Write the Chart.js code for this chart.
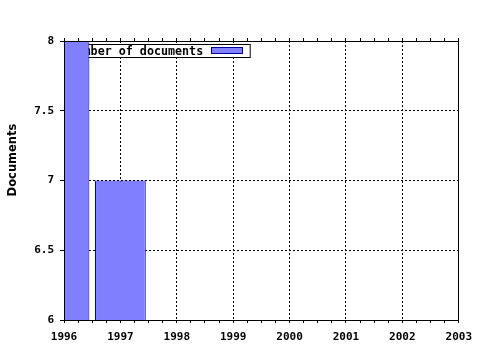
<!DOCTYPE html>
<html>
<head>
<meta charset="utf-8">
<script src="https://cdn.jsdelivr.net/npm/chart.js@4/dist/chart.umd.min.js"></script>
<style>
  html, body { margin: 0; padding: 0; background: #ffffff; }
  #c { display: block; }
</style>
</head>
<body>
<canvas id="c" width="480" height="350"></canvas>
<script>
// ---- data ----
const years = [1996, 1997];
const documents = [8, 7];
const seriesLabel = 'Number of documents';
const yAxisTitle = 'Documents';
const xRange = [1996, 2003];
const yRange = [6, 8];
const yStep = 0.5;
const xMinorStep = 0.25;

const barFill = '#8080ff';
const barEdge = '#0000a0';
const monoFont = '"DejaVu Sans Mono", monospace';

Chart.defaults.font.family = monoFont;
Chart.defaults.font.size = 11;
Chart.defaults.font.weight = 'bold';
Chart.defaults.color = '#000';

const insideLegend = {
  id: 'insideLegend',
  beforeDatasetsDraw(chart) {
    const { ctx, chartArea } = chart;
    const ds = chart.data.datasets[0];
    ctx.save();
    ctx.font = 'bold 11.7px ' + monoFont;
    const tw = ctx.measureText(ds.label).width;
    const left = chartArea.left + 2.5, top = chartArea.top + 3.5;
    const w = 3 + tw + 8 + 31 + 8, h = 13;
    ctx.fillStyle = '#fff';
    ctx.fillRect(left, top, w, h);
    ctx.strokeStyle = '#000';
    ctx.lineWidth = 1;
    ctx.strokeRect(left, top, w, h);
    ctx.fillStyle = '#000';
    ctx.textBaseline = 'middle';
    ctx.textAlign = 'left';
    ctx.fillText(ds.label, left + 3, top + h / 2 + 0.5);
    const sx = Math.round(left + 3 + tw + 8) + 0.5;
    ctx.fillStyle = ds.backgroundColor;
    ctx.fillRect(sx, top + 3, 31, 6);
    ctx.strokeStyle = ds.borderColor;
    ctx.strokeRect(sx, top + 3, 31, 6);
    ctx.restore();
  }
};

const sideTitle = {
  id: 'sideTitle',
  afterDraw(chart) {
    const { ctx } = chart;
    ctx.save();
    ctx.font = 'bold 11.5px "DejaVu Sans", sans-serif';
    ctx.fillStyle = '#000';
    ctx.textAlign = 'center';
    ctx.textBaseline = 'middle';
    ctx.translate(13.5, 160);
    ctx.rotate(-Math.PI / 2);
    ctx.fillText(yAxisTitle, 0, 0);
    ctx.restore();
  }
};

const isMajor = v => Math.abs(v - Math.round(v)) < 1e-6;

new Chart(document.getElementById('c'), {
  type: 'bar',
  data: {
    datasets: [{
      label: seriesLabel,
      data: documents.map((v, i) => ({ x: years[i], y: v })),
      backgroundColor: barFill,
      borderColor: barEdge,
      borderWidth: 1,
      // ruler spacing is one minor tick (a quarter year); bars fill 90% of a year
      barPercentage: 0.9 / xMinorStep,
      categoryPercentage: 1.0,
      xAxisID: 'x',
      yAxisID: 'y'
    }]
  },
  options: {
    responsive: false,
    animation: false,
    layout: { padding: 0 },
    plugins: {
      legend: { display: false },
      tooltip: { enabled: false },
      title: { display: false }
    },
    scales: {
      x: {
        type: 'linear',
        position: 'bottom',
        min: xRange[0],
        max: xRange[1],
        offset: false,
        afterFit(s) { s.height = 30; },
        ticks: {
          stepSize: xMinorStep,
          autoSkip: false,
          maxRotation: 0,
          padding: 8,
          color: '#000',
          font: { size: 11, weight: 'bold', family: monoFont },
          callback: v => isMajor(v) ? String(Math.round(v)) : ''
        },
        grid: {
          offset: false,
          color: c => (c.tick && isMajor(c.tick.value)) ? '#000' : 'rgba(0,0,0,0)',
          lineWidth: 1,
          tickColor: '#000',
          tickLength: 3,
          tickBorderDash: []
        },
        border: { display: true, color: '#000', width: 1, dash: [2, 2], z: 1 }
      },
      x2: {
        type: 'linear',
        position: 'top',
        min: xRange[0],
        max: xRange[1],
        offset: false,
        afterFit(s) { s.height = 41; },
        ticks: { stepSize: xMinorStep, autoSkip: false, display: false },
        grid: {
          offset: false,
          drawOnChartArea: false,
          tickColor: '#000',
          tickLength: 3
        },
        border: { display: true, color: '#000', width: 1, z: 1 }
      },
      y: {
        type: 'linear',
        position: 'left',
        min: yRange[0],
        max: yRange[1],
        beginAtZero: false,
        afterFit(s) { s.width = 64; },
        ticks: {
          stepSize: yStep,
          padding: 6,
          color: '#000',
          font: { size: 11, weight: 'bold', family: monoFont },
          callback: v => String(+v.toFixed(2))
        },
        grid: {
          color: '#000',
          lineWidth: 1,
          tickColor: '#000',
          tickLength: 4,
          tickBorderDash: []
        },
        border: { display: true, color: '#000', width: 1, dash: [2, 2], z: 1 }
      },
      y2: {
        type: 'linear',
        position: 'right',
        min: yRange[0],
        max: yRange[1],
        afterFit(s) { s.width = 21; },
        ticks: { display: false, stepSize: yStep },
        grid: { drawOnChartArea: false, drawTicks: false },
        border: { display: true, color: '#000', width: 1, z: 1 }
      }
    }
  },
  plugins: [insideLegend, sideTitle]
});
</script>
</body>
</html>
